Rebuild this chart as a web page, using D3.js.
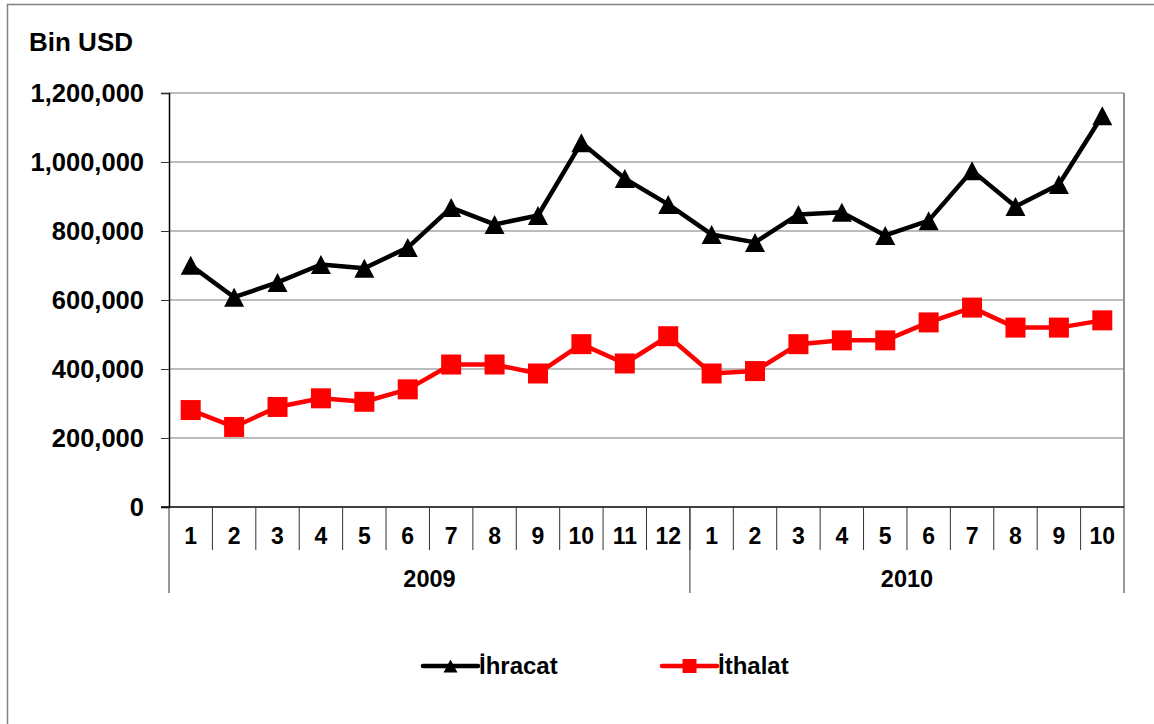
<!DOCTYPE html>
<html><head><meta charset="utf-8">
<script src="https://cdn.jsdelivr.net/npm/d3@7"></script>
<style>body{margin:0;background:#fff;} text{font-family:"Liberation Sans",Arial,sans-serif;font-weight:bold;}</style>
</head><body>
<svg id="c" width="1154" height="724"></svg>
<script>
const months = ["1","2","3","4","5","6","7","8","9","10","11","12","1","2","3","4","5","6","7","8","9","10"];
const yearLabels = ["2009","2010"];
const yearCounts = [12,10];
const ihracat = [700400,608000,651000,703000,692000,752000,868000,819000,845000,1056000,952000,877000,790000,767000,848000,854000,787000,830000,975000,871000,935000,1134000];
const ithalat = [281000,232000,290000,315000,305000,341000,413000,413000,387000,472000,416000,495000,387000,394000,472000,483000,483000,535000,578000,520000,520000,541000];
const yTicks = [0,200000,400000,600000,800000,1000000,1200000];
const seriesNames = ["İhracat","İthalat"];
const seriesColors = ["#000000","#ff0000"];
const unitLabel = "Bin USD";

const svg = d3.select("#c");
const L = 169, R = 1124, T = 93, B = 507;
const keys = months.map((m,i)=>i);
const x = d3.scaleBand().domain(keys).range([L,R]).paddingInner(0).paddingOuter(0);
const y = d3.scaleLinear().domain([0,1200000]).range([B,T]);

// outer frame
svg.append("rect").attr("x",7.5).attr("y",4.5).attr("width",1160).attr("height",740)
  .attr("fill","none").attr("stroke","#808080").attr("stroke-width",1.5);

// gridlines
svg.append("g").selectAll("line").data(yTicks.filter(d=>d>0)).join("line")
  .attr("x1",L).attr("x2",R).attr("y1",d=>y(d)).attr("y2",d=>y(d))
  .attr("stroke","#a6a6a6").attr("stroke-width",1.5);
// right border
svg.append("line").attr("x1",R).attr("x2",R).attr("y1",T).attr("y2",B)
  .attr("stroke","#909090").attr("stroke-width",2);

// y axis
const yAxis = d3.axisLeft(y).tickValues(yTicks).tickSize(8).tickPadding(17)
  .tickFormat(d3.format(","));
const gy = svg.append("g").attr("transform",`translate(${L},0)`).call(yAxis);
gy.select(".domain").attr("stroke","#000").attr("stroke-width",1.5);
gy.selectAll(".tick line").attr("stroke","#333").attr("stroke-width",1);
gy.selectAll(".tick text").attr("font-size",25.5).attr("fill","#000")
  .style("font-family","'Liberation Sans',Arial,sans-serif").style("font-weight","bold");

// x axis line
svg.append("line").attr("x1",L-8).attr("x2",R).attr("y1",B).attr("y2",B)
  .attr("stroke","#000").attr("stroke-width",1.5);
// left axis extension
svg.append("line").attr("x1",L).attr("x2",L).attr("y1",B).attr("y2",593)
  .attr("stroke","#333").attr("stroke-width",1);
// category separators
svg.append("g").selectAll("line").data(keys.slice(1)).join("line")
  .attr("x1",d=>x(d)).attr("x2",d=>x(d)).attr("y1",B).attr("y2",550)
  .attr("stroke","#333").attr("stroke-width",1);
// year separators
let cum = 0; const yearStarts = [];
yearCounts.forEach(c=>{yearStarts.push(cum); cum+=c;});
yearStarts.slice(1).forEach(s=>{
  svg.append("line").attr("x1",x(s)).attr("x2",x(s)).attr("y1",B).attr("y2",593)
    .attr("stroke","#333").attr("stroke-width",1);
});
svg.append("line").attr("x1",R).attr("x2",R).attr("y1",B).attr("y2",593)
  .attr("stroke","#333").attr("stroke-width",1);
// month labels
svg.append("g").selectAll("text").data(keys).join("text")
  .attr("x",d=>x(d)+x.bandwidth()/2).attr("y",544).attr("text-anchor","middle")
  .attr("font-size",23).text(d=>months[d]);
// year labels
yearLabels.forEach((yl,i)=>{
  const s = yearStarts[i], e = s+yearCounts[i];
  const x0 = x(s), x1 = e<keys.length ? x(e) : R;
  svg.append("text").attr("x",(x0+x1)/2).attr("y",587).attr("text-anchor","middle")
    .attr("font-size",23.5).text(yl);
});

// unit label
svg.append("text").attr("x",29).attr("y",51).attr("font-size",26).text(unitLabel);

// lines
const cx = i => x(i)+x.bandwidth()/2;
const line = d3.line().x((d,i)=>cx(i)).y(d=>y(d));
svg.append("path").datum(ihracat).attr("d",line).attr("fill","none")
  .attr("stroke",seriesColors[0]).attr("stroke-width",4.5).attr("stroke-linejoin","round");
svg.append("path").datum(ithalat).attr("d",line).attr("fill","none")
  .attr("stroke",seriesColors[1]).attr("stroke-width",4.5).attr("stroke-linejoin","round");

const tri = (w,h)=>`M0,${-h/2}L${w/2},${h/2}L${-w/2},${h/2}Z`;
svg.append("g").selectAll("path").data(ihracat).join("path")
  .attr("transform",(d,i)=>`translate(${cx(i)},${y(d)})`)
  .attr("d",tri(20,19)).attr("fill",seriesColors[0]);
svg.append("g").selectAll("rect").data(ithalat).join("rect")
  .attr("x",(d,i)=>cx(i)-10).attr("y",d=>y(d)-10).attr("width",20).attr("height",20)
  .attr("fill",seriesColors[1]);

// legend
const lg = svg.append("g");
const legendX = [423,662];
seriesNames.forEach((n,i)=>{
  const lx = legendX[i], ly = 666;
  lg.append("line").attr("x1",lx).attr("x2",lx+55).attr("y1",ly).attr("y2",ly)
    .attr("stroke",seriesColors[i]).attr("stroke-width",4.5).attr("stroke-linecap","round");
  if(i===0){
    lg.append("path").attr("transform",`translate(${lx+27.5},${ly})`).attr("d",tri(14,13)).attr("fill",seriesColors[i]);
  } else {
    lg.append("rect").attr("x",lx+27.5-7).attr("y",ly-7).attr("width",14).attr("height",14).attr("fill",seriesColors[i]);
  }
  lg.append("text").attr("x",lx+56).attr("y",ly+8).attr("font-size",24).text(n);
});
</script>
</body></html>
